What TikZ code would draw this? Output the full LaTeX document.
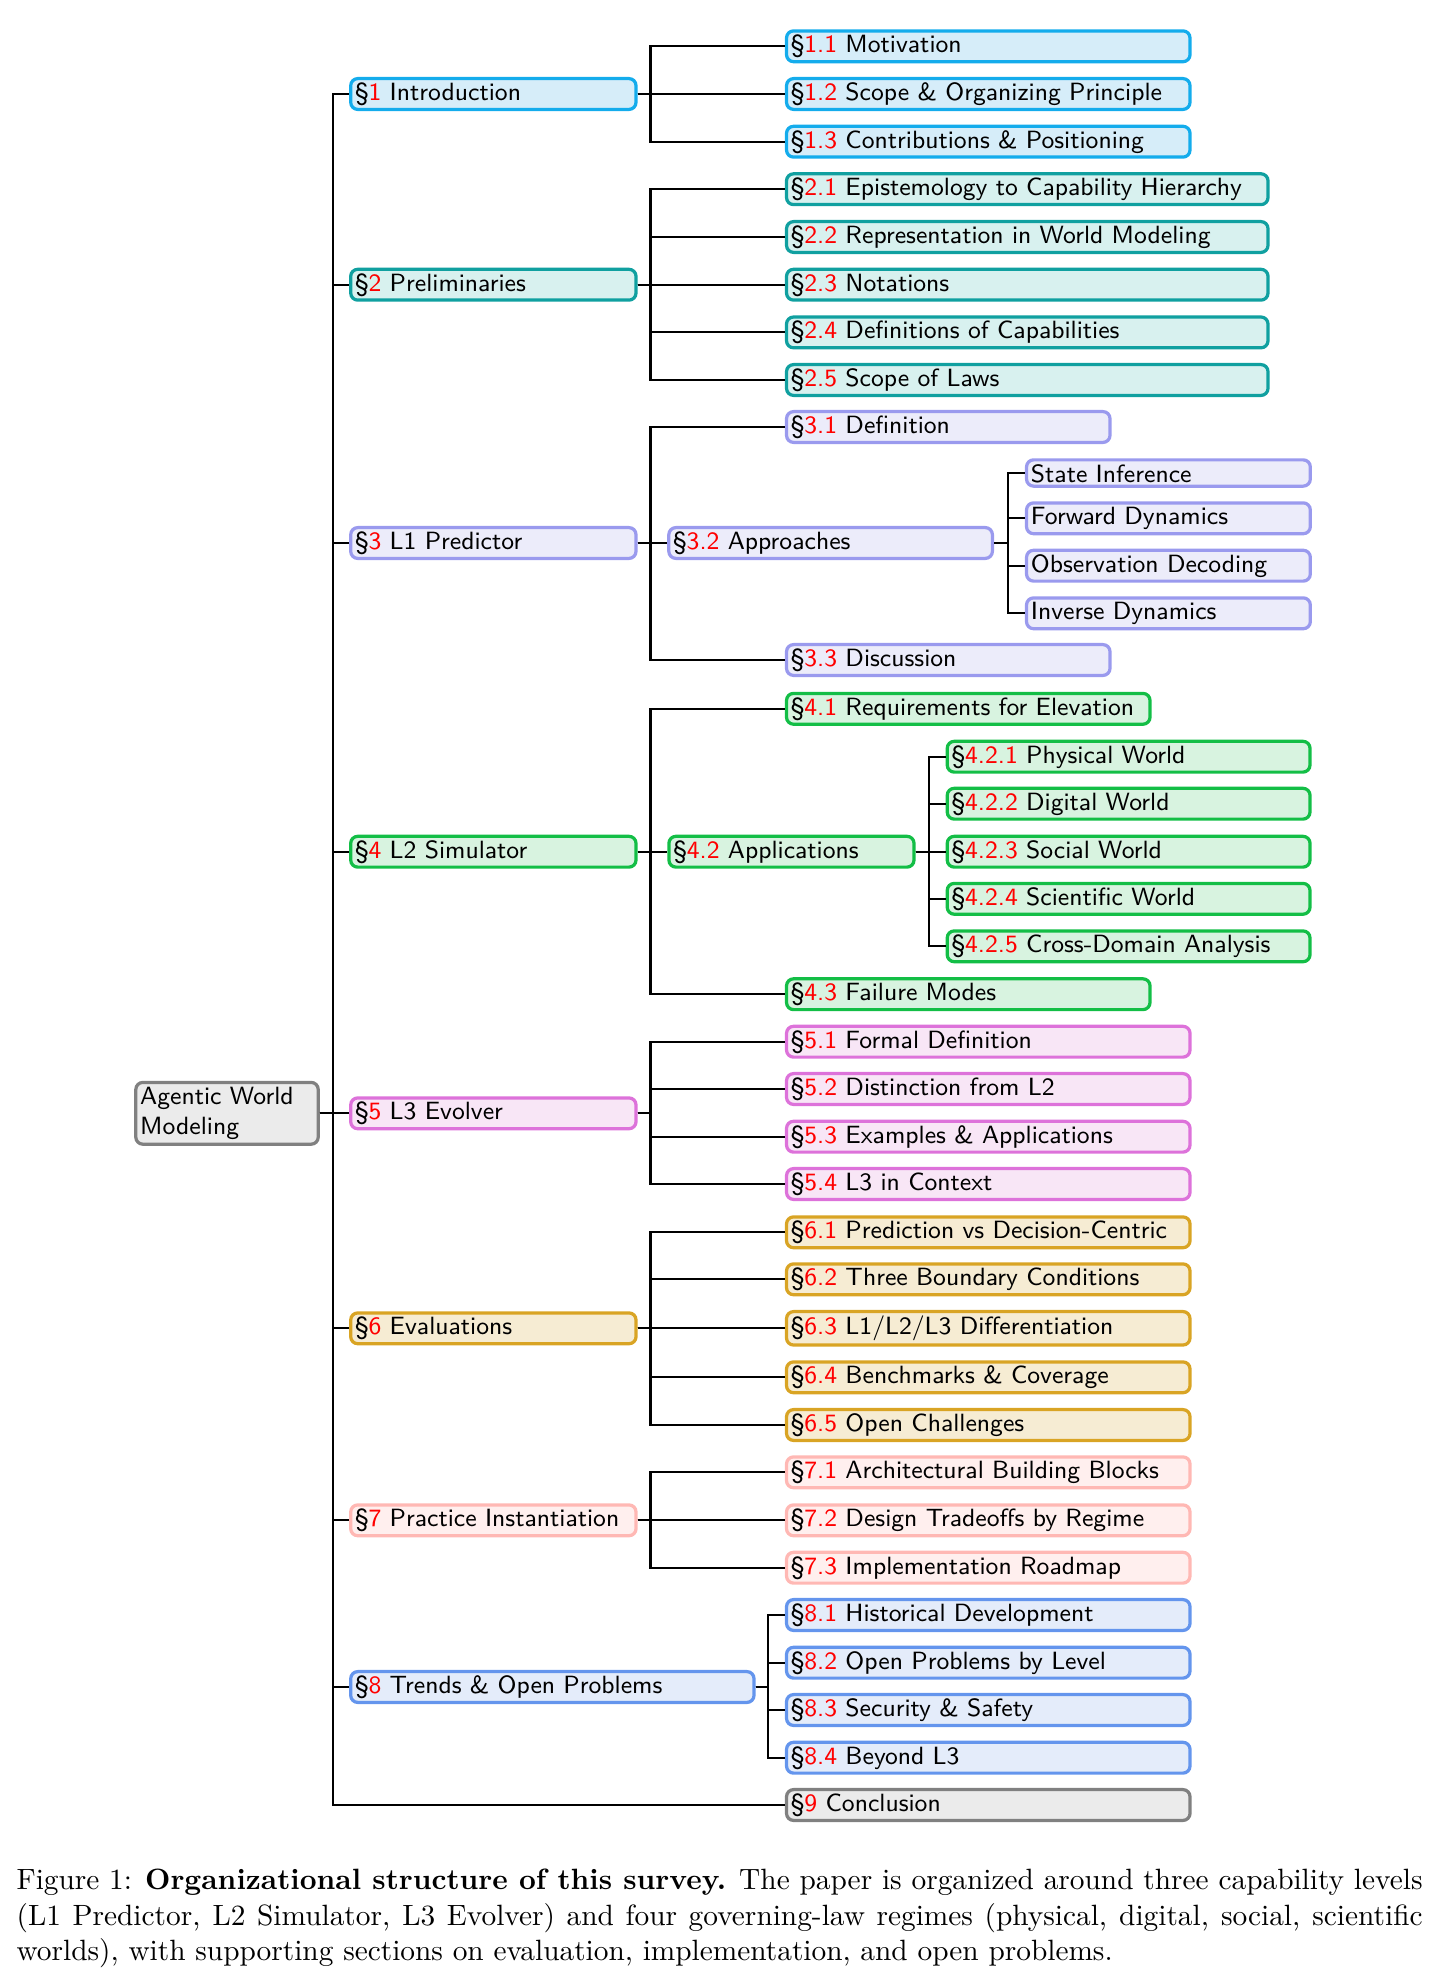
\documentclass[tikz,border=0pt]{standalone}
\usepackage{xcolor}
\definecolor{cAb}{RGB}{20,172,236}\definecolor{cAf}{RGB}{214,237,249}
\definecolor{cBb}{RGB}{16,160,160}\definecolor{cBf}{RGB}{216,241,239}
\definecolor{cCb}{RGB}{154,154,238}\definecolor{cCf}{RGB}{236,236,250}
\definecolor{cDb}{RGB}{19,190,70}\definecolor{cDf}{RGB}{216,243,224}
\definecolor{cEb}{RGB}{221,114,218}\definecolor{cEf}{RGB}{248,230,246}
\definecolor{cFb}{RGB}{217,164,36}\definecolor{cFf}{RGB}{246,236,211}
\definecolor{cGb}{RGB}{255,184,180}\definecolor{cGf}{RGB}{255,239,238}
\definecolor{cHb}{RGB}{100,149,237}\definecolor{cHf}{RGB}{228,236,250}
\definecolor{cIb}{RGB}{128,128,128}\definecolor{cIf}{RGB}{235,235,235}
\newcommand\sn[2]{\S\textcolor{red}{#1} #2}
% name, style, left, right, cy, text
\newcommand\nd[6]{\node[box,#2,text width={(#4-#3-3.2)*0.3407pt-3pt}] (#1) at ({#3+1.6},#5) {\mbox{#6}};}
\tikzset{
  boxbase/.style={draw, line width=1.1pt, rounded corners=2.4pt, anchor=west,
    inner xsep=1.5pt, inner ysep=0pt, align=left,
    font=\fontsize{8.5}{10.2}\selectfont\sffamily},
  box/.style={boxbase, text height=6.3pt, text depth=1.9pt, minimum height=10.5pt},
  conn/.style={line width=0.7pt, black},
  gA/.style={draw=cAb, fill=cAf}, gB/.style={draw=cBb, fill=cBf},
  gC/.style={draw=cCb, fill=cCf}, gD/.style={draw=cDb, fill=cDf},
  gE/.style={draw=cEb, fill=cEf}, gF/.style={draw=cFb, fill=cFf},
  gG/.style={draw=cGb, fill=cGf}, gH/.style={draw=cHb, fill=cHf},
  gI/.style={draw=cIb, fill=cIf},
  small/.style={text depth=0pt, minimum height=8.95pt},
  tall/.style={minimum height=11.4pt},
}
\begin{document}
\begin{tikzpicture}[x=0.3407pt, y=-0.3407pt]
\useasboundingbox (0,0) rectangle (1435,1984);
% root
\node[boxbase, gI, minimum height=21.05pt,
  text width={(318.2-132.6-3.2)*0.3407pt-3pt}] (root) at (134.2,1113.3) {Agentic World\\Modeling};
% branch coordinates
\coordinate (t) at (332.7,0);
\coordinate (b) at (650.5,0);
\coordinate (b8) at (768.3,0);
\coordinate (b32) at (1008,0);
\coordinate (b42) at (929,0);
% level 1
\nd{s1}{gA}{347.5}{636}{94}{\sn{1}{Introduction}}
\nd{s2}{gB}{347.5}{636}{284.7}{\sn{2}{Preliminaries}}
\nd{s3}{gC}{347.5}{636}{543}{\sn{3}{L1 Predictor}}
\nd{s4}{gD}{347.5}{636}{851.7}{\sn{4}{L2 Simulator}}
\nd{s5}{gE}{347.5}{636}{1113.3}{\sn{5}{L3 Evolver}}
\nd{s6}{gF}{347.5}{636}{1328.3}{\sn{6}{Evaluations}}
\nd{s7}{gG}{347.5}{636}{1520.3}{\sn{7}{Practice Instantiation}}
\nd{s8}{gH}{347.5}{754}{1687}{\sn{8}{Trends \& Open Problems}}
\nd{s9}{gI}{783.3}{1190}{1805}{\sn{9}{Conclusion}}
% level 2
\nd{s11}{gA}{783.3}{1190}{46.3}{\sn{1.1}{Motivation}}
\nd{s12}{gA}{783.3}{1190}{94}{\sn{1.2}{Scope \& Organizing Principle}}
\nd{s13}{gA}{783.3}{1190}{141.7}{\sn{1.3}{Contributions \& Positioning}}
\nd{s21}{gB}{783.3}{1268}{189.2}{\sn{2.1}{Epistemology to Capability Hierarchy}}
\nd{s22}{gB}{783.3}{1268}{237}{\sn{2.2}{Representation in World Modeling}}
\nd{s23}{gB}{783.3}{1268}{284.7}{\sn{2.3}{Notations}}
\nd{s24}{gB}{783.3}{1268}{332.4}{\sn{2.4}{Definitions of Capabilities}}
\nd{s25}{gB}{783.3}{1268}{380}{\sn{2.5}{Scope of Laws}}
\nd{s31}{gC}{783.3}{1110}{427}{\sn{3.1}{Definition}}
\nd{s32}{gC}{665.6}{992.4}{543}{\sn{3.2}{Approaches}}
\nd{s33}{gC}{783.3}{1110}{660}{\sn{3.3}{Discussion}}
\nd{si}{gC,small}{1023.3}{1310.3}{473}{State Inference}
\nd{fd}{gC}{1023.3}{1310.3}{518.3}{Forward Dynamics}
\nd{od}{gC}{1023.3}{1310.3}{565.7}{Observation Decoding}
\nd{id}{gC}{1023.3}{1310.3}{613.3}{Inverse Dynamics}
\nd{s41}{gD}{783.3}{1150}{708.8}{\sn{4.1}{Requirements for Elevation}}
\nd{s42}{gD}{665.7}{914}{851.7}{\sn{4.2}{Applications}}
\nd{s43}{gD}{783.3}{1150}{994.2}{\sn{4.3}{Failure Modes}}
\nd{s421}{gD}{944}{1310}{756.7}{\sn{4.2.1}{Physical World}}
\nd{s422}{gD}{944}{1310}{803.7}{\sn{4.2.2}{Digital World}}
\nd{s423}{gD}{944}{1310}{851.7}{\sn{4.2.3}{Social World}}
\nd{s424}{gD}{944}{1310}{898.8}{\sn{4.2.4}{Scientific World}}
\nd{s425}{gD}{944}{1310}{946.3}{\sn{4.2.5}{Cross-Domain Analysis}}
\nd{s51}{gE}{783.3}{1190}{1041.7}{\sn{5.1}{Formal Definition}}
\nd{s52}{gE}{783.3}{1190}{1089}{\sn{5.2}{Distinction from L2}}
\nd{s53}{gE}{783.3}{1190}{1136.7}{\sn{5.3}{Examples \& Applications}}
\nd{s54}{gE}{783.3}{1190}{1184}{\sn{5.4}{L3 in Context}}
\nd{s61}{gF}{783.3}{1190}{1232.3}{\sn{6.1}{Prediction vs Decision-Centric}}
\nd{s62}{gF}{783.3}{1190}{1279.3}{\sn{6.2}{Three Boundary Conditions}}
\nd{s63}{gF,tall}{783.3}{1190}{1328.3}{\sn{6.3}{L1/L2/L3 Differentiation}}
\nd{s64}{gF}{783.3}{1190}{1377.3}{\sn{6.4}{Benchmarks \& Coverage}}
\nd{s65}{gF}{783.3}{1190}{1425}{\sn{6.5}{Open Challenges}}
\nd{s71}{gG}{783.3}{1190}{1472.3}{\sn{7.1}{Architectural Building Blocks}}
\nd{s72}{gG}{783.3}{1190}{1520.3}{\sn{7.2}{Design Tradeoffs by Regime}}
\nd{s73}{gG}{783.3}{1190}{1567.7}{\sn{7.3}{Implementation Roadmap}}
\nd{s81}{gH}{783.3}{1190}{1615}{\sn{8.1}{Historical Development}}
\nd{s82}{gH}{783.3}{1190}{1662.7}{\sn{8.2}{Open Problems by Level}}
\nd{s83}{gH}{783.3}{1190}{1710}{\sn{8.3}{Security \& Safety}}
\nd{s84}{gH}{783.3}{1190}{1757.7}{\sn{8.4}{Beyond L3}}
% connectors: root trunk
\foreach \c in {s1,s2,s3,s4,s5,s6,s7,s8,s9}
  \draw[conn] (root.east) -- (t |- root.east) |- (\c.west);
\foreach \p/\cs in {s1/{s11,s12,s13}, s2/{s21,s22,s23,s24,s25}, s3/{s31,s32,s33},
    s4/{s41,s42,s43}, s5/{s51,s52,s53,s54}, s6/{s61,s62,s63,s64,s65}, s7/{s71,s72,s73}}
  \foreach \c in \cs
    \draw[conn] (\p.east) -- (b |- \p.east) |- (\c.west);
\foreach \c in {s81,s82,s83,s84}
  \draw[conn] (s8.east) -- (b8 |- s8.east) |- (\c.west);
\foreach \c in {si,fd,od,id}
  \draw[conn] (s32.east) -- (b32 |- s32.east) |- (\c.west);
\foreach \c in {s421,s422,s423,s424,s425}
  \draw[conn] (s42.east) -- (b42 |- s42.east) |- (\c.west);
% caption
\node[anchor=north west, inner sep=0pt, text width={1406*0.3407pt}, align=justify,
  font=\fontsize{10}{12}\selectfont] (cap) at (16,1864.6)
  {\strut Figure 1: \textbf{Organizational structure of this survey.} The paper is organized around three capability levels\linebreak
  (L1 Predictor, L2 Simulator, L3 Evolver) and four governing-law regimes (physical, digital, social, scientific\linebreak
  worlds), with supporting sections on evaluation, implementation, and open problems.};
\end{tikzpicture}
\end{document}
